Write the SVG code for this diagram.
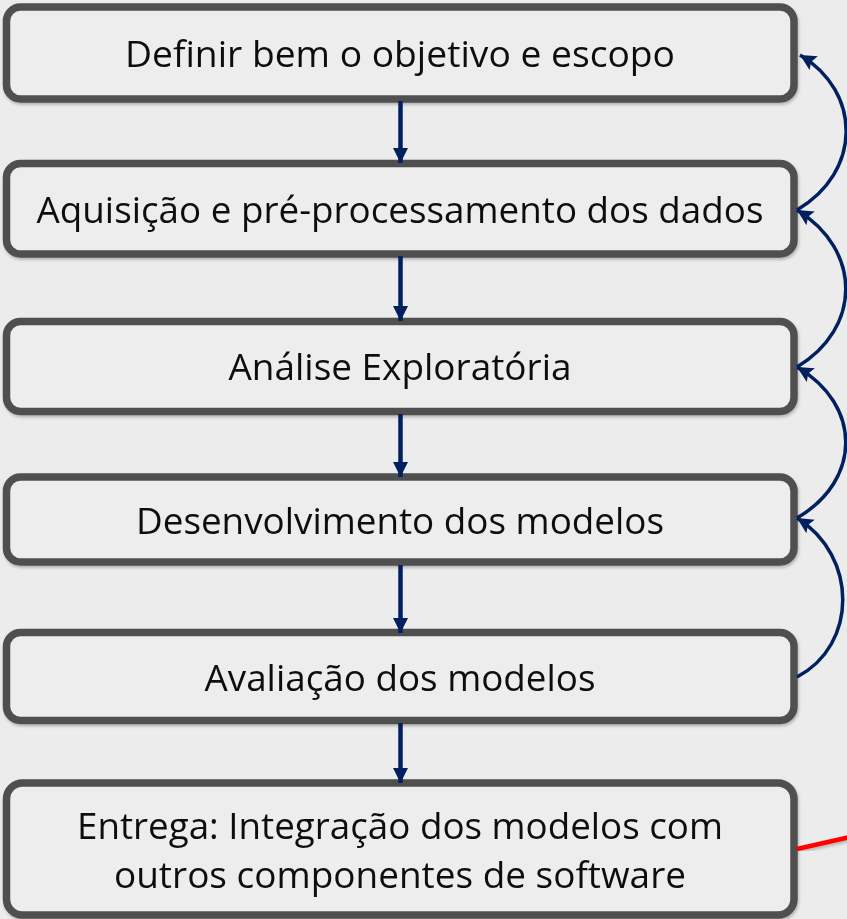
<svg xmlns="http://www.w3.org/2000/svg" width="847" height="919" viewBox="0 0 847 919">
<style>
.box{fill:#EDEDED;stroke:#505050;stroke-width:7.5}
.t{font-family:"Open Sans","Noto Sans",sans-serif;font-size:37px;fill:#111;text-anchor:middle}
.v{stroke:#002060;stroke-width:4.5;fill:none}
.c{stroke:#002060;stroke-width:3.5;fill:none}
</style>
<defs>
<filter id="sh" x="-5%" y="-10%" width="110%" height="125%">
<feDropShadow dx="1" dy="2" stdDeviation="1.5" flood-color="#000" flood-opacity="0.25"/>
</filter>
<marker id="ah" markerUnits="userSpaceOnUse" markerWidth="16" markerHeight="16" refX="15" refY="8" orient="auto">
<path d="M0,0.5 L15,8 L0,15.5 Z" fill="#002060"/>
</marker>
<marker id="ac" markerUnits="userSpaceOnUse" markerWidth="18" markerHeight="16" refX="16" refY="8" orient="auto">
<path d="M0,0 L16,8 L0,16 L3,8 Z" fill="#002060"/>
</marker>
</defs>
<rect width="847" height="919" fill="#ECECEC"/>
<g id="n1" filter="url(#sh)"><rect class="box" x="6.5" y="7" width="787.5" height="92" rx="14"/><text class="t" x="400" y="67" textLength="550" lengthAdjust="spacingAndGlyphs">Definir bem o objetivo e escopo</text></g>
<g id="n2" filter="url(#sh)"><rect class="box" x="6.5" y="163.5" width="787.5" height="90.5" rx="14"/><text class="t" x="400" y="223" textLength="727" lengthAdjust="spacingAndGlyphs">Aquisição e pré-processamento dos dados</text></g>
<g id="n3" filter="url(#sh)"><rect class="box" x="6.5" y="321.5" width="787.5" height="90" rx="14"/><text class="t" x="400" y="380" textLength="343" lengthAdjust="spacingAndGlyphs">Análise Exploratória</text></g>
<g id="n4" filter="url(#sh)"><rect class="box" x="6.5" y="477" width="787.5" height="85" rx="14"/><text class="t" x="400" y="534" textLength="528" lengthAdjust="spacingAndGlyphs">Desenvolvimento dos modelos</text></g>
<g id="n5" filter="url(#sh)"><rect class="box" x="6.5" y="632.5" width="787.5" height="88" rx="14"/><text class="t" x="400" y="691" textLength="391" lengthAdjust="spacingAndGlyphs">Avaliação dos modelos</text></g>
<g id="n6" filter="url(#sh)"><rect class="box" x="6.5" y="783" width="787.5" height="132" rx="16"/><text class="t" x="400" y="839" textLength="646" lengthAdjust="spacingAndGlyphs">Entrega: Integração dos modelos com</text><text class="t" x="400" y="888" textLength="572" lengthAdjust="spacingAndGlyphs">outros componentes de software</text></g>
<g id="connectors">
<line class="v" x1="400.5" y1="101" x2="400.5" y2="163" marker-end="url(#ah)"/>
<line class="v" x1="400.5" y1="256" x2="400.5" y2="321" marker-end="url(#ah)"/>
<line class="v" x1="400.5" y1="414" x2="400.5" y2="477" marker-end="url(#ah)"/>
<line class="v" x1="400.5" y1="565" x2="400.5" y2="633" marker-end="url(#ah)"/>
<line class="v" x1="400.5" y1="723" x2="400.5" y2="783" marker-end="url(#ah)"/>
<path class="c" d="M797,210 C862,172 862,92 800,55" marker-end="url(#ac)"/>
<path class="c" d="M797,367 C862,328 862,250 797,210" marker-end="url(#ac)"/>
<path class="c" d="M797,518 C862,480 862,405 797,367" marker-end="url(#ac)"/>
<path class="c" d="M797,677 C858,645 858,556 797,518" marker-end="url(#ac)"/>
<line x1="797" y1="849" x2="850" y2="837" stroke="#FF0000" stroke-width="4.5" filter="url(#sh)"/>
</g>
</svg>
